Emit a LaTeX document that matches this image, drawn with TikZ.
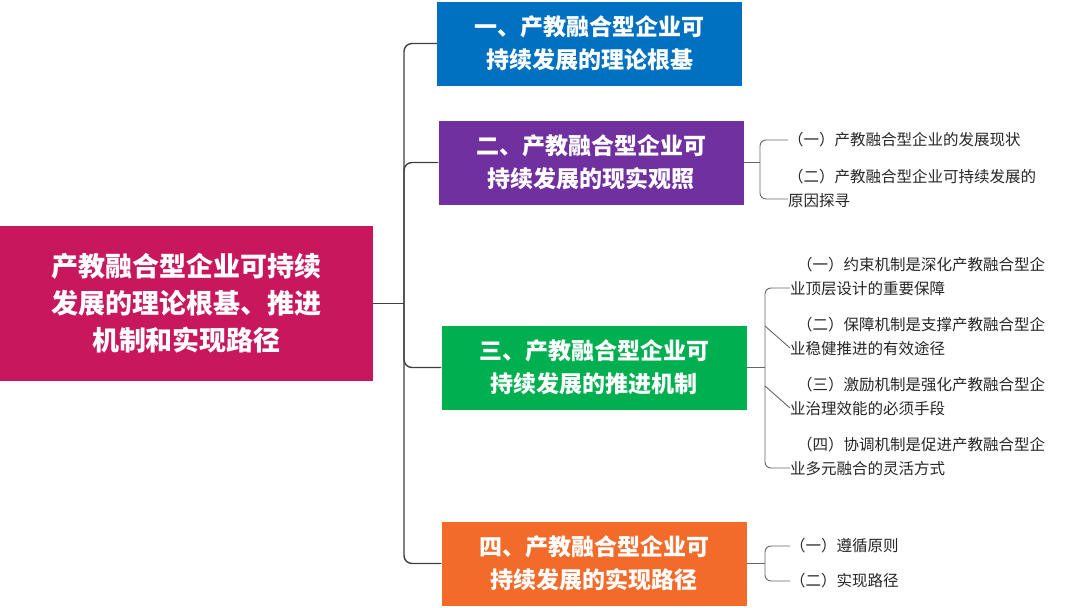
\documentclass[tikz,border=0pt]{standalone}
\usepackage{fontspec}
\setmainfont{Noto Sans CJK SC}
\usetikzlibrary{positioning}
\definecolor{rootc}{HTML}{C8175D}
\definecolor{bluec}{HTML}{0070C0}
\definecolor{purc}{HTML}{7030A0}
\definecolor{grnc}{HTML}{00B050}
\definecolor{orgc}{HTML}{F26B2A}
\definecolor{linec}{HTML}{404040}
\tikzset{
  rootbox/.style={fill=rootc,text=white,font=\fontsize{27}{37}\selectfont\bfseries,
    minimum width=373pt,minimum height=155pt,align=center,inner sep=0pt},
  partbox/.style={text=white,font=\fontsize{23}{33}\selectfont\bfseries,
    minimum width=305pt,minimum height=84pt,align=center,inner sep=0pt},
  leaf/.style={font=\fontsize{15.5}{24}\selectfont,color=black!85,align=left,
    anchor=west,inner sep=0pt},
  conn/.style={draw=linec,line width=1.4pt,rounded corners=8pt},
  brace/.style={draw=linec!80,line width=0.9pt,rounded corners=6pt}
}
\begin{document}
\begin{tikzpicture}[x=1pt,y=-1pt]
  \useasboundingbox (0,0) rectangle (1080,608);
  % main boxes
  \node[rootbox] (root) at (186.5,303.5) {产教融合型企业可持续\\发展的理论根基、推进\\机制和实现路径};
  \node[partbox,fill=bluec] (p1) at (589.5,43.5) {一、产教融合型企业可\\持续发展的理论根基};
  \node[partbox,fill=purc] (p2) at (591,162.5) {二、产教融合型企业可\\持续发展的现实观照};
  \node[partbox,fill=grnc] (p3) at (594,367.5) {三、产教融合型企业可\\持续发展的推进机制};
  \node[partbox,fill=orgc] (p4) at (594,563.5) {四、产教融合型企业可\\持续发展的实现路径};
  % trunk
  \coordinate (j) at (404,303.5);
  \draw[conn] (root.east) -- (j);
  \draw[conn] (p1.west) -| (j) |- (p4.west);
  \draw[conn] (j) |- (p2.west);
  \draw[conn] (j) |- (p3.west);
  % leaves of part two
  \node[leaf] (l21) at (788,140) {（一）产教融合型企业的发展现状};
  \node[leaf] (l22) at (788,188) {（二）产教融合型企业可持续发展的\\原因探寻};
  \draw[brace] (l21.west) -- (760,140) |- ([yshift=-11pt]l22.west);
  \draw[brace] (p2.east) -- (760,162.5);
  % leaves of part three
  \node[leaf] (l31) at (790,277) {\ \ （一）约束机制是深化产教融合型企\\业顶层设计的重要保障};
  \node[leaf] (l32) at (790,337) {\ \ （二）保障机制是支撑产教融合型企\\业稳健推进的有效途径};
  \node[leaf] (l33) at (790,397) {\ \ （三）激励机制是强化产教融合型企\\业治理效能的必须手段};
  \node[leaf] (l34) at (790,457) {\ \ （四）协调机制是促进产教融合型企\\业多元融合的灵活方式};
  \draw[brace] ([yshift=-11pt]l31.west) -| (765,367.5) |- ([yshift=-11pt]l34.west);
  \draw[brace] ([yshift=-11pt]l32.west) -- (765,326);
  \draw[brace] ([yshift=-11pt]l33.west) -- (765,386);
  \draw[brace] (p3.east) -- (765,367.5);
  % leaves of part four
  \node[leaf] (l41) at (790,546) {（一）遵循原则};
  \node[leaf] (l42) at (790,581) {（二）实现路径};
  \draw[brace] (l41.west) -| (765,563.5) |- (l42.west);
  \draw[brace] (p4.east) -- (765,563.5);
\end{tikzpicture}
\end{document}
